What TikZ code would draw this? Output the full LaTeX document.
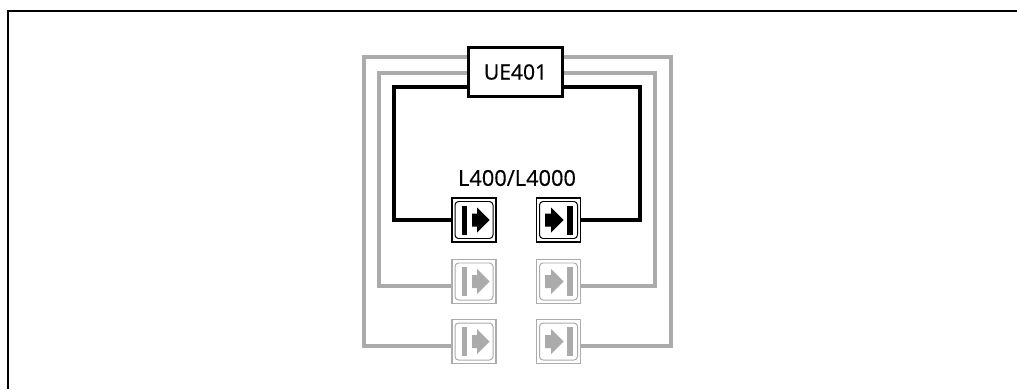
\documentclass[tikz,border=0pt]{standalone}
\usepackage{fontspec}
\setmainfont{Open Sans}
\newfontfamily\labelfont[FakeBold=0.5]{Open Sans}
\usetikzlibrary{positioning}
\definecolor{lightline}{HTML}{ABABAB}
\tikzset{
  boxnode/.style={rectangle,draw,fill=white,line width=1.6pt,minimum width=2.35cm,minimum height=1.22cm,inner sep=0pt,font=\labelfont\fontsize{15}{18}\selectfont},
  btnnode/.style={rectangle,draw=#1,fill=white,line width=1pt,minimum size=1.1cm,inner sep=0pt},
  wire/.style={line width=2.5pt,draw=#1,line join=miter},
  senderglyph/.pic={
    \draw[line width=0.7pt,rounded corners=2.5pt] (-19,-18.5) rectangle (19,18.5);
    \fill (-12.5,-14.5) rectangle (-7,14.5);
    \fill (-2,-6.5) -- (3,-6.5) -- (3,-12.5) -- (15.5,0) -- (3,12.5) -- (3,6.5) -- (-2,6.5) -- cycle;
  },
  receiverglyph/.pic={
    \draw[line width=0.7pt,rounded corners=2.5pt] (-19,-18.5) rectangle (19,18.5);
    \fill (8.5,-14.5) rectangle (14,14.5);
    \fill (-13.5,-6.5) -- (-7.5,-6.5) -- (-7.5,-12.5) -- (5,0) -- (-7.5,12.5) -- (-7.5,6.5) -- (-13.5,6.5) -- cycle;
  }
}
\begin{document}
\begin{tikzpicture}[x=0.025cm,y=-0.025cm]
    \useasboundingbox (0,0) rectangle (1017,389);
    \draw[line width=1.8pt] (8,389) -- (8,11) -- (1017,11);

    \node[boxnode] (ue) at (515.5,72) {\raisebox{-1pt}{UE401}};
    \node[font=\labelfont\fontsize{15.5}{18}\selectfont] (lbl) at (517,178) {L400/L4000};

    \foreach \nm/\yy/\col in {a/220/black,b/281.5/lightline,c/341.5/lightline} {
      \node[btnnode=\col] (l\nm) at (474,\yy) {};
      \node[btnnode=\col] (r\nm) at (558.5,\yy) {};
      \pic[color=\col] at (l\nm) {senderglyph};
      \pic[color=\col] at (r\nm) {receiverglyph};
    }

    % wires, outer pair first
    \coordinate (out1) at (364,57);
    \coordinate (out2) at (671,57);
    \coordinate (mid1) at (379,73);
    \coordinate (mid2) at (655,73);
    \coordinate (in1) at (394,87);
    \coordinate (in2) at (640,87);
    \draw[wire=lightline] (ue.west |- out1) -- (out1) |- ([yshift=-0.11cm]lc.west);
    \draw[wire=lightline] (ue.east |- out2) -- (out2) |- ([yshift=-0.11cm]rc.east);
    \draw[wire=lightline] (ue.west |- mid1) -- (mid1) |- ([yshift=-0.11cm]lb.west);
    \draw[wire=lightline] (ue.east |- mid2) -- (mid2) |- ([yshift=-0.11cm]rb.east);
    \draw[wire=black] (ue.west |- in1) -- (in1) |- (la.west);
    \draw[wire=black] (ue.east |- in2) -- (in2) |- (ra.east);
  \end{tikzpicture}
\end{document}
